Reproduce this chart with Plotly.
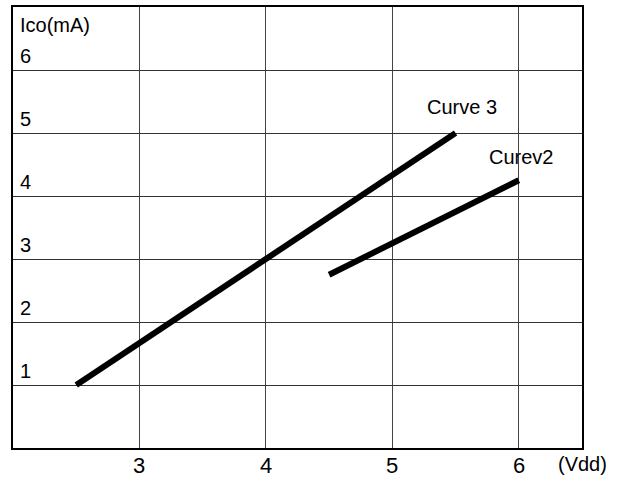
import plotly.graph_objects as go

# Data
curve3_x = [2.5, 5.5]
curve3_y = [1.0, 5.0]
curve2_x = [4.5, 6.0]
curve2_y = [2.75, 4.25]

x_ticks = [3, 4, 5, 6]
x_tick_labels = ["3", "4", "5", "6"]
x_unit_label = "(Vdd)"
x_unit_pos = 6.5
y_ticks = [1, 2, 3, 4, 5, 6]
y_tick_labels = ["1", "2", "3", "4", "5", "6"]
y_title = "Ico(mA)"

curve_labels = ["Curve 3", "Curev2"]
label_x = [5.55, 6.02]
label_y = [5.42, 4.62]

FONT = "Liberation Sans, Arial, sans-serif"

fig = go.Figure()
fig.add_trace(go.Scatter(x=curve3_x, y=curve3_y, mode="lines",
                         line=dict(color="black", width=6), showlegend=False,
                         hoverinfo="skip"))
fig.add_trace(go.Scatter(x=curve2_x, y=curve2_y, mode="lines",
                         line=dict(color="black", width=6), showlegend=False,
                         hoverinfo="skip"))

annotations = []
for v, t in zip(y_ticks, y_tick_labels):
    annotations.append(dict(x=0, xref="paper", y=v, yref="y", text=t,
                            showarrow=False, xanchor="left", yanchor="middle",
                            xshift=5, yshift=14,
                            font=dict(family=FONT, size=20, color="black")))
annotations.append(dict(x=0, xref="paper", y=6, yref="y", text=y_title,
                        showarrow=False, xanchor="left", yanchor="middle",
                        xshift=5, yshift=45,
                        font=dict(family=FONT, size=20, color="black")))
for v, t in zip(x_ticks, x_tick_labels):
    annotations.append(dict(x=v, xref="x", y=0, yref="paper", text=t,
                            showarrow=False, xanchor="center", yanchor="middle",
                            yshift=-17,
                            font=dict(family=FONT, size=22, color="black")))
for t, lx, ly in zip(curve_labels, label_x, label_y):
    annotations.append(dict(x=lx, y=ly, xref="x", yref="y", text=t,
                            showarrow=False, xanchor="center", yanchor="middle",
                            font=dict(family=FONT, size=20, color="black")))
annotations.append(dict(x=x_unit_pos, xref="x", y=0, yref="paper", text=x_unit_label,
                        showarrow=False, xanchor="center", yanchor="middle",
                        yshift=-16,
                        font=dict(family=FONT, size=20, color="black")))

fig.update_layout(
    width=623, height=477,
    margin=dict(l=13, r=41, t=5, b=29),
    plot_bgcolor="white", paper_bgcolor="white",
    annotations=annotations,
    xaxis=dict(range=[2, 6.5], tickvals=x_ticks, showticklabels=False,
               showgrid=True, gridcolor="#444", gridwidth=1,
               zeroline=False, showline=True, linecolor="black", linewidth=2,
               mirror=True, ticks=""),
    yaxis=dict(range=[0, 7], tickvals=y_ticks, showticklabels=False,
               showgrid=True, gridcolor="#333", gridwidth=1,
               zeroline=False, showline=True, linecolor="black", linewidth=2,
               mirror=True, ticks=""),
)

fig.write_html("out.html", config={"displayModeBar": False},
               post_script="document.body.style.margin='0';")
